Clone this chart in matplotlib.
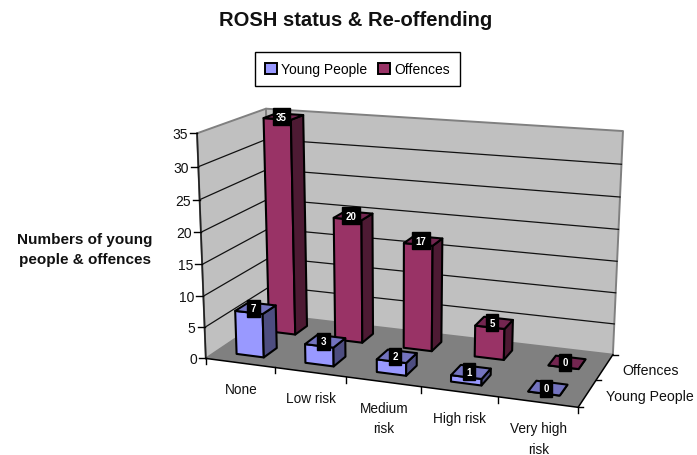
import matplotlib
matplotlib.use('Agg')
import matplotlib.pyplot as plt
from matplotlib.patches import Patch, Polygon
import numpy as np

plt.rcParams['font.family'] = ['Liberation Sans', 'DejaVu Sans']

# data
categories = ['None', 'Low risk', 'Medium\nrisk', 'High risk', 'Very high\nrisk']
series_names = ['Young People', 'Offences']
young_people = [7, 3, 2, 1, 0]
offences = [35, 20, 17, 5, 0]
z_ticks = [0, 5, 10, 15, 20, 25, 30, 35]

# colours: front, side, top
young_cols = ['#9999FF', '#4D4D80', '#7373BF']
off_cols = ['#993366', '#4D1A33', '#732650']

# box corners (category, depth, value) and where they land in the picture
box_pts = np.array([[0, 0, 0], [0, 0, 35], [0, 2, 0], [0, 2, 35],
                    [5, 2, 0], [5, 2, 35], [5, 0, 0]], dtype=float)
pix_pts = np.array([[206, 360], [197, 134], [271, 315], [266, 110],
                    [613, 356], [623, 132], [578, 408]], dtype=float)

# fit the perspective once, so every mark goes through the same projection
A = []
b = []
for (x, d, z), (u, v) in zip(box_pts, pix_pts):
    A.append([x, d, z, 1, 0, 0, 0, 0, -u * x, -u * d, -u * z])
    A.append([0, 0, 0, 0, x, d, z, 1, -v * x, -v * d, -v * z])
    b += [u, v]
P = np.append(np.linalg.lstsq(np.array(A), np.array(b), rcond=None)[0], 1).reshape(3, 4)


def proj(x, d, z):
    u, v, w = P @ np.array([x, d, z, 1.0])
    return u / w, v / w


fig = plt.figure(figsize=(6.97, 4.56), dpi=100)
ax = fig.add_axes([0, 0, 1, 1])
ax.set_xlim(0, 697)
ax.set_ylim(456, 0)
ax.axis('off')


def face(pts, fc, ec='black', lw=1.5, z=2):
    ax.add_patch(Polygon([proj(*p) for p in pts], closed=True, facecolor=fc,
                         edgecolor=ec, linewidth=lw, joinstyle='round', zorder=z))


# walls and floor
face([(0, 0, 0), (0, 2, 0), (0, 2, 35), (0, 0, 35)], '#C0C0C0', '#808080', 1.4, 1)
face([(0, 2, 0), (5, 2, 0), (5, 2, 35), (0, 2, 35)], '#C0C0C0', '#808080', 1.4, 1)
face([(0, 0, 0), (5, 0, 0), (5, 2, 0), (0, 2, 0)], '#808080', 'none', 0, 1.5)

# grid
for t in z_ticks[1:-1]:
    ax.plot(*zip(proj(0, 0, t), proj(0, 2, t), proj(5, 2, t)), color='#111111', lw=0.9, zorder=1.2)

# axis lines
ax.plot(*zip(proj(0, 0, 0), proj(0, 0, 35)), color='#222222', lw=1.2, zorder=1.8)
ax.plot(*zip(proj(0, 0, 0), proj(5, 0, 0), proj(5, 2, 0)), color='black', lw=1.1, zorder=1.8)

# ticks and labels
for t in z_ticks:
    u, v = proj(0, 0, t)
    ax.plot([u - 7, u], [v, v], color='black', lw=1, zorder=1.8)
    ax.text(u - 9, v + 1, str(t), ha='right', va='center', fontsize=10, color='#111111')
for i in range(6):
    u, v = proj(i, 0, 0)
    ax.plot([u, u], [v, v + 6], color='black', lw=1, zorder=1.8)
for i in range(3):
    u, v = proj(5, i, 0)
    ax.plot([u, u + 5], [v, v], color='black', lw=1, zorder=1.8)
for i, cat in enumerate(categories):
    u, v = proj(i + 0.5, 0, 0)
    ax.text(u + 1, v + 19, cat, ha='center', va='top', fontsize=9.8, color='#111111', linespacing=1.6)
for i, name in enumerate(series_names):
    u, v = proj(5, i + 0.5, 0)
    ax.text(u + 18, v + 3, name, ha='left', va='center', fontsize=10.2, color='#111111')

# bars, back series first
for s in [1, 0]:
    vals = [young_people, offences][s]
    cols = [young_cols, off_cols][s]
    for i, val in enumerate(vals):
        x0, x1 = i + 0.3, i + 0.7
        d0, d1 = s + 0.3, s + 0.7
        face([(x0, d0, 0), (x1, d0, 0), (x1, d0, val), (x0, d0, val)], cols[0], z=3 - s)
        face([(x1, d0, 0), (x1, d1, 0), (x1, d1, val), (x1, d0, val)], cols[1], z=3 - s)
        face([(x0, d0, val), (x1, d0, val), (x1, d1, val), (x0, d1, val)], cols[2], z=3 - s)
        u, v = proj(i + 0.5, s + 0.5, val)
        ax.text(u - 2, v, str(val), ha='center', va='center', fontsize=7, fontweight='bold', color='white',
                zorder=5, bbox=dict(facecolor='black', edgecolor='black', pad=2.5))

ax.text(356, 21, 'ROSH status & Re-offending', ha='center', va='center', fontsize=14.5, fontweight='bold', color='#111111')
ax.text(85, 250, 'Numbers of young\npeople & offences', ha='center', va='center', fontsize=11,
        fontweight='bold', color='#111111', linespacing=1.55)

handles = [Patch(facecolor=young_cols[0], edgecolor='black', lw=1.4),
           Patch(facecolor=off_cols[0], edgecolor='black', lw=1.4)]
leg = ax.legend(handles, series_names, loc='center', bbox_to_anchor=(357.5, 70), bbox_transform=ax.transData,
                ncol=2, fontsize=10, frameon=True, fancybox=False, edgecolor='black', framealpha=1,
                handlelength=0.85, handleheight=0.85, handletextpad=0.3, columnspacing=0.8, borderpad=0.7)
leg.get_frame().set_linewidth(1)

fig.savefig('out.png', dpi=100)
